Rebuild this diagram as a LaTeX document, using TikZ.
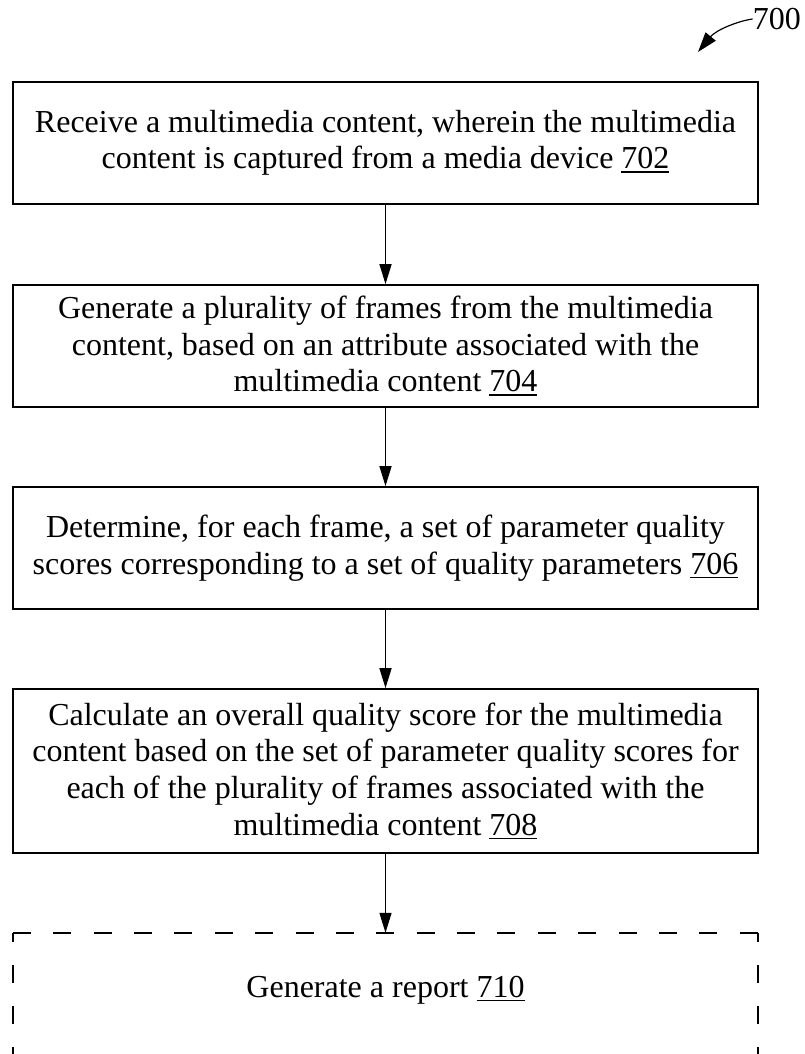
\documentclass[tikz,border=0pt]{standalone}
\usepackage{fontspec}
\setmainfont{Liberation Serif}
\usetikzlibrary{arrows.meta}
\newcommand\refnum[1]{\setbox0\hbox{#1}\rlap{\rule[-4pt]{\wd0}{1.6pt}}\box0}
\tikzset{
  txt/.style={font=\fontsize{32}{36.6}\selectfont, align=center},
  stepbox/.style={txt, draw, line width=1.7pt, rectangle, minimum width=745pt, minimum height=122pt, inner sep=3pt},
  ghostbox/.style={txt, rectangle, minimum width=745pt, minimum height=114pt, inner sep=3pt},
  arr/.style={line width=1.4pt, -{Triangle[length=20pt,width=12pt]}},
  hdash/.style={line width=1.7pt, dash pattern=on 18pt off 22.39pt},
  vdash/.style={line width=1.7pt, dash pattern=on 18pt off 23pt, dash phase=8.5pt}
}
\begin{document}
\begin{tikzpicture}[x=1pt,y=-1pt]
\useasboundingbox (0,0) rectangle (805,1054);
\node[stepbox] (n1) at (385.5,143) {Receive a multimedia content, wherein the multimedia\\content is captured from a media device \refnum{702}};
\node[stepbox] (n2) at (385.5,346) {Generate a plurality of frames from the multimedia\\content, based on an attribute associated with the\\multimedia content \refnum{704}};
\node[stepbox] (n3) at (385.5,548) {Determine, for each frame, a set of parameter quality\\scores corresponding to a set of quality parameters \refnum{706}};
\node[stepbox, minimum height=164pt] (n4) at (385.5,771) {Calculate an overall quality score for the multimedia\\content based on the set of parameter quality scores for\\each of the plurality of frames associated with the\\multimedia content \refnum{708}};
\node[ghostbox] (n5) at (385.5,990) {Generate a report \refnum{710}};
\draw[hdash] (n5.north west) -- (n5.north east);
\draw[vdash] (n5.north west) -- ++(0,140);
\draw[vdash] (n5.north east) -- ++(0,140);
\draw[arr] (n1) -- (n2);
\draw[arr] (n2) -- (n3);
\draw[arr] (n3) -- (n4);
\draw[arr] (n4) -- (n5);
\node[txt, inner sep=0pt, anchor=east] (l700) at (801,19) {700};
\coordinate (t700) at (698,52);
\draw[arr, line width=1.2pt, -{Triangle[length=20pt,width=13pt]}] (l700.west) .. controls (738,21) and (716,30) .. (t700);
\end{tikzpicture}
\end{document}
